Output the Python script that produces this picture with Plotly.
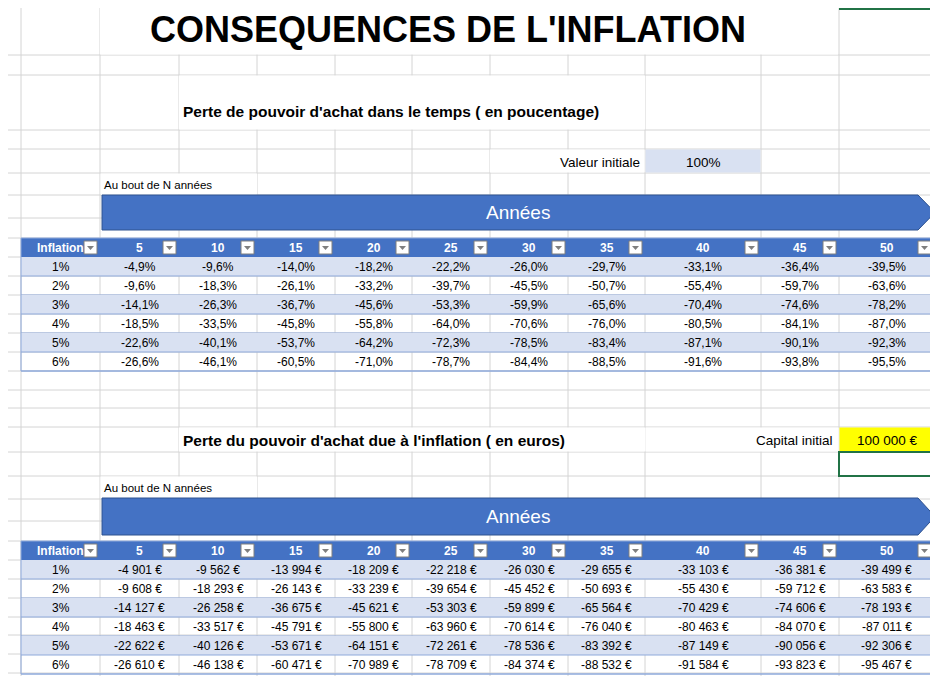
import plotly.graph_objects as go

# ---- data ----
years = ["5", "10", "15", "20", "25", "30", "35", "40", "45", "50"]
inflation = ["1%", "2%", "3%", "4%", "5%", "6%"]
pct_loss = [
    ["-4,9%", "-9,6%", "-14,0%", "-18,2%", "-22,2%", "-26,0%", "-29,7%", "-33,1%", "-36,4%", "-39,5%"],
    ["-9,6%", "-18,3%", "-26,1%", "-33,2%", "-39,7%", "-45,5%", "-50,7%", "-55,4%", "-59,7%", "-63,6%"],
    ["-14,1%", "-26,3%", "-36,7%", "-45,6%", "-53,3%", "-59,9%", "-65,6%", "-70,4%", "-74,6%", "-78,2%"],
    ["-18,5%", "-33,5%", "-45,8%", "-55,8%", "-64,0%", "-70,6%", "-76,0%", "-80,5%", "-84,1%", "-87,0%"],
    ["-22,6%", "-40,1%", "-53,7%", "-64,2%", "-72,3%", "-78,5%", "-83,4%", "-87,1%", "-90,1%", "-92,3%"],
    ["-26,6%", "-46,1%", "-60,5%", "-71,0%", "-78,7%", "-84,4%", "-88,5%", "-91,6%", "-93,8%", "-95,5%"],
]
eur_loss = [
    ["-4 901 €", "-9 562 €", "-13 994 €", "-18 209 €", "-22 218 €", "-26 030 €", "-29 655 €", "-33 103 €", "-36 381 €", "-39 499 €"],
    ["-9 608 €", "-18 293 €", "-26 143 €", "-33 239 €", "-39 654 €", "-45 452 €", "-50 693 €", "-55 430 €", "-59 712 €", "-63 583 €"],
    ["-14 127 €", "-26 258 €", "-36 675 €", "-45 621 €", "-53 303 €", "-59 899 €", "-65 564 €", "-70 429 €", "-74 606 €", "-78 193 €"],
    ["-18 463 €", "-33 517 €", "-45 791 €", "-55 800 €", "-63 960 €", "-70 614 €", "-76 040 €", "-80 463 €", "-84 070 €", "-87 011 €"],
    ["-22 622 €", "-40 126 €", "-53 671 €", "-64 151 €", "-72 261 €", "-78 536 €", "-83 392 €", "-87 149 €", "-90 056 €", "-92 306 €"],
    ["-26 610 €", "-46 138 €", "-60 471 €", "-70 989 €", "-78 709 €", "-84 374 €", "-88 532 €", "-91 584 €", "-93 823 €", "-95 467 €"],
]

# ---- sheet geometry ----
col_edges = [0, 13, 92, 171, 249, 327, 404, 482, 560, 637, 753, 831, 926, 938]
row_edges = [47, 67, 122, 141, 165, 187, 210, 230, 249, 268, 287, 306, 325, 344, 363, 382,
             400, 419, 444, 468, 491, 513, 533, 552, 571, 590, 609, 627, 646, 665]
tcols = col_edges[1:13]  # table column edges (11 columns)

BLUE = "#4472C4"
LIGHT = "#D9E1F2"
BORDER = "#8EA9DB"
GRID = "#D4D4D4"
FONT = "Liberation Sans"

shapes = []
ann = []


def rect(x0, y0, x1, y1, fill, line=None, width=1):
    shapes.append(dict(type="rect", x0=x0, y0=y0, x1=x1, y1=y1, fillcolor=fill,
                       line=dict(color=line or fill, width=width if line else 0)))


def text(x, y, s, size=12.5, color="black", bold=False, anchor="center"):
    ann.append(dict(x=x, y=y, text=f"<b>{s}</b>" if bold else s, showarrow=False,
                    xanchor=anchor, yanchor="middle",
                    font=dict(family=FONT, size=size, color=color)))


# gridlines
for x in col_edges[1:-1]:
    shapes.append(dict(type="line", x0=x, x1=x, y0=0, y1=676, line=dict(color=GRID, width=1)))
for y in row_edges:
    shapes.append(dict(type="line", x0=0, x1=938, y0=y, y1=y, line=dict(color=GRID, width=1)))

# merged areas (blank out gridlines)
rect(92, 0, 830, 46.5, "white")
rect(171, 67.5, 637, 121.5, "white")
rect(482, 141.5, 636.5, 164.5, "white")
rect(92.5, 165.5, 249, 186.5, "white")
rect(171, 419.5, 637, 443.5, "white")
rect(637.5, 419.5, 830.5, 443.5, "white")
rect(92.5, 468.5, 249, 490.5, "white")

text(440, 21, "CONSEQUENCES DE L'INFLATION", size=36, bold=True)
text(173, 103, "Perte de pouvoir d'achat dans le temps ( en poucentage)", size=15.5, bold=True, anchor="left")
text(634, 154, "Valeur initiale", size=13.5, anchor="right")
rect(637.5, 141.5, 752.5, 164.5, LIGHT)
text(695, 154, "100%", size=13.5)
text(173, 432, "Perte du pouvoir d'achat due à l'inflation ( en euros)", size=15.5, bold=True, anchor="left")
text(827, 432, "Capital initial", size=13.5, anchor="right")
rect(831.5, 419.5, 925.5, 443.5, "#FFFF00")
text(879, 432, "100 000 €", size=13.5)
rect(831, 444, 926, 468, "rgba(0,0,0,0)", line="#217346", width=2)
shapes.append(dict(type="line", x0=831, x1=938, y0=1, y1=1, line=dict(color="#217346", width=2)))


def table(top, label_y, arrow_top, arrow_bot, values):
    text(94, label_y, "Au bout de N années", size=11.5, anchor="left")
    # arrow banner
    ym = (arrow_top + arrow_bot) / 2
    shapes.append(dict(type="path",
                       path=f"M 94 {arrow_top} L 910 {arrow_top} L 927 {ym} L 910 {arrow_bot} L 94 {arrow_bot} Z",
                       fillcolor=BLUE, line=dict(color="#2F528F", width=1)))
    text(510, ym, "Années", size=19, color="white")
    rh = 19
    # header
    rect(tcols[0], top, tcols[-1], top + rh, BLUE)
    headers = ["Inflation"] + years
    for i, h in enumerate(headers):
        x0, x1 = tcols[i], tcols[i + 1]
        if i == 0:
            text(x0 + 14, top + rh / 2, h, size=12, color="white", bold=True, anchor="left")
        else:
            text((x0 + x1) / 2, top + rh / 2, h, size=12, color="white", bold=True)
        # filter dropdown
        rect(x1 - 16, top + 3, x1 - 3, top + 16, "white", line="#7F7F7F")
        shapes.append(dict(type="path",
                           path=f"M {x1-13} {top+8} L {x1-6} {top+8} L {x1-9.5} {top+12} Z",
                           fillcolor="#7F7F7F", line=dict(width=0)))
    # body
    for r, lab in enumerate(inflation):
        y0 = top + rh * (r + 1)
        if r % 2 == 0:
            rect(tcols[0], y0, tcols[-1], y0 + rh, LIGHT)
        shapes.append(dict(type="line", x0=tcols[0], x1=tcols[-1], y0=y0 + rh, y1=y0 + rh,
                           line=dict(color=BORDER, width=1)))
        text((tcols[0] + tcols[1]) / 2, y0 + rh / 2, lab, size=12)
        for c, v in enumerate(values[r]):
            text((tcols[c + 1] + tcols[c + 2]) / 2, y0 + rh / 2, v, size=12)
    shapes.append(dict(type="rect", x0=tcols[0], x1=tcols[-1], y0=top, y1=top + rh * 7,
                       line=dict(color=BORDER, width=1), fillcolor="rgba(0,0,0,0)"))


table(230, 177, 187, 222, pct_loss)
table(533, 480, 490, 527, eur_loss)

fig = go.Figure(go.Scatter(x=[0, 938], y=[0, 676], mode="markers", marker=dict(opacity=0), hoverinfo="skip"))
fig.update_layout(width=938, height=676, margin=dict(l=0, r=0, t=0, b=0),
                  paper_bgcolor="white", plot_bgcolor="white", showlegend=False,
                  shapes=shapes, annotations=ann,
                  xaxis=dict(range=[0, 938], visible=False, fixedrange=True),
                  yaxis=dict(range=[676, 0], visible=False, fixedrange=True))
fig.write_html("out.html")
